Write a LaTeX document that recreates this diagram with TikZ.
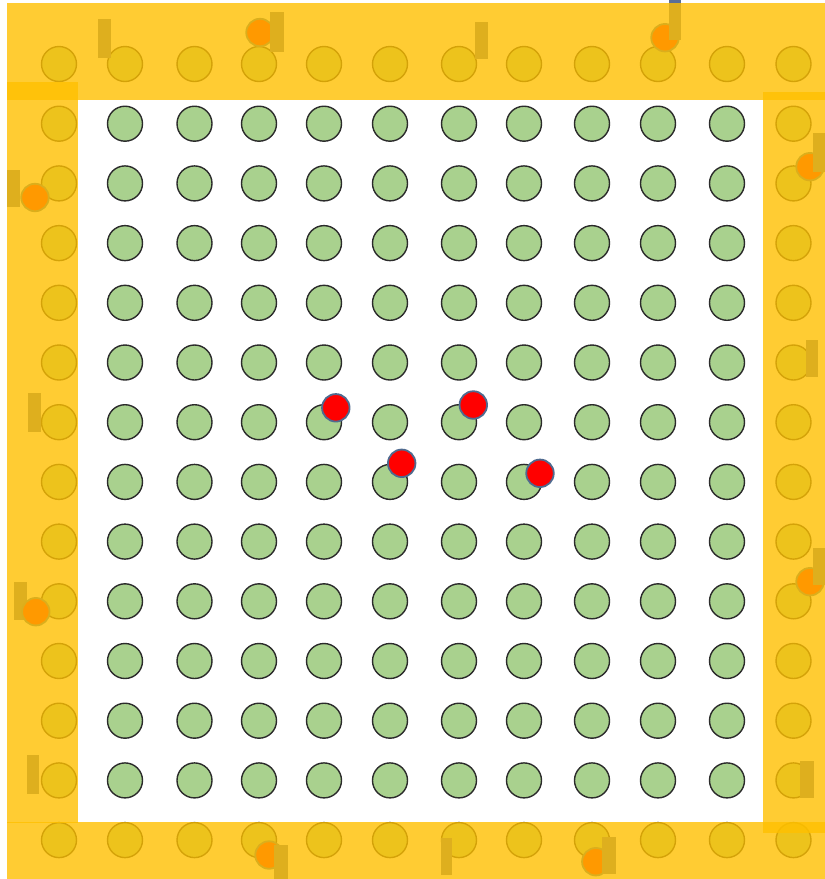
\documentclass[tikz,border=0pt]{standalone}
\usepackage{tikz}
\usetikzlibrary{positioning,calc}
\definecolor{band}{HTML}{FFC000}
\definecolor{leaf}{HTML}{A9D18E}
\definecolor{rim}{HTML}{2B2B2B}
\definecolor{bot}{HTML}{FF0000}
\definecolor{botrim}{HTML}{4F6A8F}
\definecolor{mast}{HTML}{5A6E96}
\tikzset{
  cell/.style={circle,draw=rim,fill=leaf,line width=1.4pt,minimum size=35pt,inner sep=0pt},
  robot/.style={circle,draw=botrim,fill=bot,line width=1.8pt,minimum size=27.5pt,inner sep=0pt},
  pole/.style={fill=mast},
  zone/.style={fill=band,fill opacity=0.8},
}
% robot disc and its mast
\newcommand{\rb}[3]{\node[robot] (#1) at (#2,#3) {};}
\newcommand{\pl}[4]{\fill[pole] (#1,#2) rectangle (#3,#4);}

\begin{document}
\begin{tikzpicture}[x=1pt,y=-1pt]
\fill[white] (0,0) rectangle (825,879);
\useasboundingbox (0,0) rectangle (825,879);
% field of cells
\foreach \x [count=\i] in {59,125,194.5,259,324,390,459,524,592,658,727,793.5}
  \foreach \k in {0,...,13}
    \node[cell] (c\i-\k) at (\x,{64+59.7*\k}) {};
% masts on the left side sit under their robots
\pl{7}{170}{20}{207}
\pl{28}{393}{41}{432}
\pl{14}{582}{27}{620}
\pl{27}{755}{39}{794}
% robots inside the field
\rb{r1}{335.8}{407.8}
\rb{r2}{473.3}{405}
\rb{r3}{401.7}{463.3}
\rb{r4}{540}{473.3}
% robots on the rim
\rb{b1}{260}{32.5}
\rb{b2}{665}{37.7}
\rb{b3}{35}{197.5}
\rb{b4}{810}{166.7}
\rb{b5}{35.8}{611.7}
\rb{b6}{810}{581.7}
\rb{b7}{269}{855}
\rb{b8}{595.8}{861.7}
% other masts
\pl{98}{19}{111}{58}
\pl{270}{12}{284}{52}
\pl{475}{22}{488}{59}
\pl{669}{0}{681}{40}
\pl{813}{133}{825}{172}
\pl{806}{340}{818}{377}
\pl{813}{548}{825}{585}
\pl{800}{761}{814}{798}
\pl{274}{845}{288}{879}
\pl{441}{838}{452}{875}
\pl{602}{837}{616}{874}
% border zones
\fill[zone] (7,3) rectangle (825,100);
\fill[zone] (7,82) rectangle (78,823);
\fill[zone] (763,92) rectangle (825,833);
\fill[zone] (7,822) rectangle (825,879);
\end{tikzpicture}
\end{document}
